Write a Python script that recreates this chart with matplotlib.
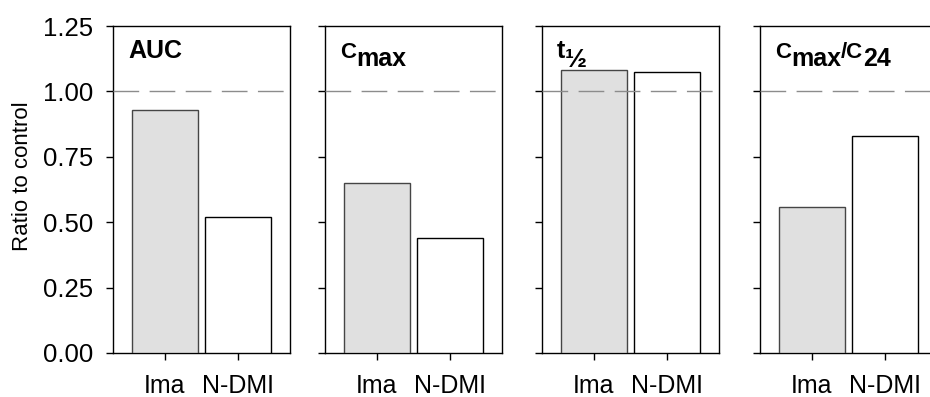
import numpy as np
import matplotlib
matplotlib.use('Agg')
import matplotlib.pyplot as plt
from matplotlib.ticker import FormatStrFormatter

plt.rcParams['font.family'] = ['Liberation Sans', 'DejaVu Sans']

# ratio of treated to control for each PK parameter
groups = ['Ima', 'N-DMI']
ima = [0.93, 0.65, 1.08, 0.56]
ndmi = [0.52, 0.44, 1.075, 0.83]

# panel titles, split into pieces so sub/superscripts can be placed by hand
panel_titles = [
    [('AUC', 'main')],
    [('C', 'cap'), ('max', 'sub')],
    [('t', 'main'), ('½', 'half')],
    [('C', 'cap'), ('max', 'sub'), ('/C', 'cap'), ('24', 'sub')],
]
# font size and baseline shift (pixels) for each kind of piece
piece_style = {'main': (18, 0), 'cap': (16, 0), 'sub': (18, -8.5), 'half': (19, -9.5)}

W, H = 930, 397
fig = plt.figure(figsize=(W / 100, H / 100), dpi=100)

ax_left_px = [113, 325, 542, 760]
ax_w_px, ax_top_px, ax_bot_px = 177, 26, 353

for i in range(4):
    ax = fig.add_axes([ax_left_px[i] / W, 1 - ax_bot_px / H,
                       ax_w_px / W, (ax_bot_px - ax_top_px) / H])
    ax.bar([0, 1], [ima[i], ndmi[i]], width=0.9,
           color=['#e0e0e0', 'white'], edgecolor=['#454545', 'black'],
           linewidth=1.0, zorder=3)
    ax.axhline(1.0, color='#8c8c8c', lw=1.0, dashes=(18.5, 7.5), zorder=4)

    ax.set_xlim(-0.712, 1.712)
    ax.set_ylim(0, 1.25)
    ax.set_yticks(np.arange(0, 1.26, 0.25))
    ax.yaxis.set_major_formatter(FormatStrFormatter('%.2f'))
    ax.set_xticks([0, 1])
    ax.set_xticklabels(groups)
    ax.tick_params(direction='out', length=5, width=1, labelsize=18.5)
    ax.tick_params(axis='x', pad=10, labelsize=18)
    ax.tick_params(axis='y', pad=9)
    if i > 0:
        ax.tick_params(axis='y', labelleft=False)
    for sp in ax.spines.values():
        sp.set_linewidth(1.0)

    # title built piece by piece from the top-left corner
    y_base = 1 - 31.5 / (ax_bot_px - ax_top_px)
    prev = None
    for txt, kind in panel_titles[i]:
        size, dy = piece_style[kind]
        if prev is None:
            prev = ax.annotate(txt, xy=(0, y_base), xycoords='axes fraction',
                               xytext=(15, dy), textcoords='offset pixels',
                               fontsize=size, fontweight='bold',
                               ha='left', va='baseline')
        else:
            prev = ax.annotate(txt, xy=(1, y_base), xycoords=(prev, ax.transAxes),
                               xytext=(0, dy), textcoords='offset pixels',
                               fontsize=size, fontweight='bold',
                               ha='left', va='baseline')

fig.text(23 / W, 1 - 176 / H, 'Ratio to control', rotation=90,
         ha='center', va='center', fontsize=16)

fig.savefig('out.png', dpi=100)
